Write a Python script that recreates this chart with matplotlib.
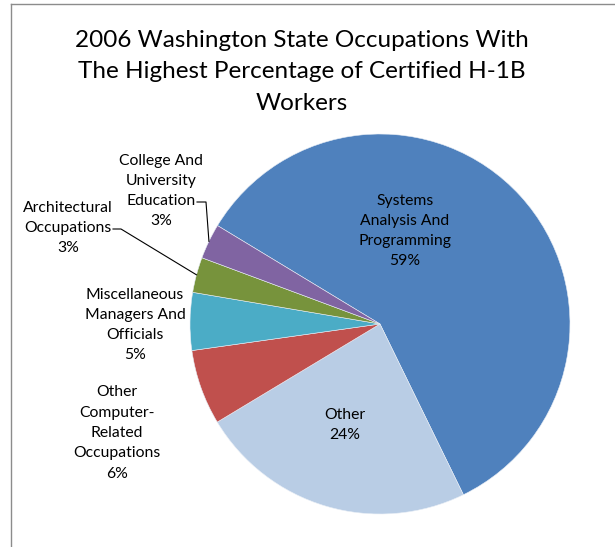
import numpy as np
import matplotlib
matplotlib.use("Agg")
import matplotlib.pyplot as plt
from matplotlib.lines import Line2D

plt.rcParams['font.family'] = ['Lato', 'DejaVu Sans']

# data (clockwise from the top-left boundary)
labels = ['Systems\nAnalysis And\nProgramming',
          'Other',
          'Other\nComputer-\nRelated\nOccupations',
          'Miscellaneous\nManagers And\nOfficials',
          'Architectural\nOccupations',
          'College And\nUniversity\nEducation']
values = [59.1, 23.6, 6.4, 4.9, 3.0, 3.0]
pct_text = ['59%', '24%', '6%', '5%', '3%', '3%']
colors = ['#4F81BD', '#B9CDE5', '#C0504D', '#4BACC6', '#77933C', '#8064A2']

W, H = 615, 547
fig = plt.figure(figsize=(W / 100, H / 100), dpi=100)
ax = fig.add_axes([0, 0, 1, 1])

cx, cy, r = 380, H - 324, 190
wedges, _ = ax.pie(values, colors=colors, startangle=148.8, counterclock=False,
                   center=(cx, cy), radius=r, frame=True,
                   wedgeprops=dict(edgecolor='#e8eef6', linewidth=0.4))
ax.set_xlim(0, W)
ax.set_ylim(0, H)
ax.set_aspect('auto')
ax.axis('off')

fs = 11.3
# label positions in pixel space (x, y from top)
pos = [(405, 231), (345, 425), (117, 433), (135, 325), (68, 228), (161, 191)]
for lab, p, (x, y) in zip(labels, pct_text, pos):
    ax.text(x, H - y, lab + '\n' + p, ha='center', va='center', fontsize=fs,
            linespacing=1.57, color='black')

# leader lines for the two small slices
def edge_point(w):
    a = np.deg2rad((w.theta1 + w.theta2) / 2)
    return cx + r * np.cos(a), cy + r * np.sin(a)

ex, ey = edge_point(wedges[5])
ax.plot([197, 206, ex], [H - 202, H - 202, ey], color='black', lw=0.8)
ex, ey = edge_point(wedges[4])
ax.plot([113, 121, ex], [H - 229, H - 229, ey], color='black', lw=0.8)

ax.text(302, H - 72, '2006 Washington State Occupations With\n'
        'The Highest Percentage of Certified H-1B\nWorkers',
        ha='center', va='center', fontsize=17.5, linespacing=1.64)

# chart frame (cropped on the right and bottom)
fig.add_artist(Line2D([10.5 / W, 10.5 / W], [0, 1 - 3.5 / H], color='#8c8c8c', lw=1))
fig.add_artist(Line2D([10.5 / W, 1], [1 - 3.5 / H, 1 - 3.5 / H], color='#8c8c8c', lw=1))

fig.savefig('out.png', dpi=100)
